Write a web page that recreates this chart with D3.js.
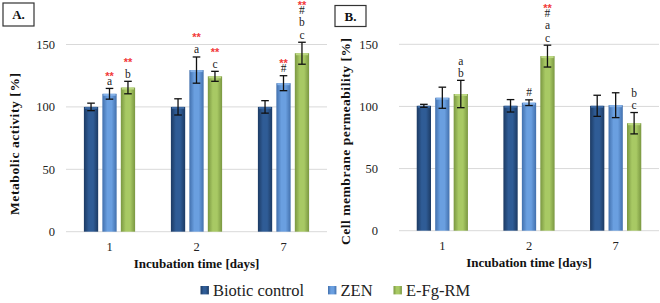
<!DOCTYPE html>
<html><head><meta charset="utf-8">
<script src="https://cdn.jsdelivr.net/npm/d3@7"></script>
<style>body{margin:0;background:#fff}svg{display:block}
svg text{font-family:"Liberation Serif","Times New Roman",Tinos,"DejaVu Serif",serif}
svg tspan.ast{font-family:"Liberation Sans",Arial,sans-serif}
</style>
</head><body>
<svg id="c" width="660" height="303"></svg>
<script>
const days = ["1", "2", "7"];
const seriesNames = ["Biotic control", "ZEN", "E-Fg-RM"];
const yTicks = [0, 50, 100, 150];

// Panel A: Metabolic activity [%]
const metaBiotic = [100, 100, 100];
const metaZEN = [110.5, 129.5, 119];
const metaEFg = [115.5, 124.5, 143];
const metaBioticErr = [3, 6.5, 5];
const metaZENErr = [4.3, 10.5, 6];
const metaEFgErr = [5, 4, 8.8];
const metaBioticLbl = [[], [], []];
const metaZENLbl = [["a", "**"], ["a", "", "**"], ["#", "**"]];
const metaEFgLbl = [["b", "", "**"], ["c", "", "**"], ["c", "b", "#", "**"]];

// Panel B: Cell membrane permeability [%]
const permBiotic = [100.5, 100.5, 100.5];
const permZEN = [107, 103, 101];
const permEFg = [110, 140.5, 86.5];
const permBioticErr = [1.2, 5, 8.5];
const permZENErr = [8.5, 2.3, 10];
const permEFgErr = [11, 8.8, 8.6];
const permBioticLbl = [[], [], []];
const permZENLbl = [[], ["#"], []];
const permEFgLbl = [["b", "a"], ["c", "a", "#", "**"], ["c", "b"]];

const colors = [
  {edge: "#1c3a63", mid: "#2f5c96", top: "#3d6aa3"},
  {edge: "#4270ad", mid: "#6a9fe0", top: "#86b3ea"},
  {edge: "#7a9741", mid: "#a8c964", top: "#bcd882"}
];

const svg = d3.select("#c");
const defs = svg.append("defs");
colors.forEach((c, i) => {
  const g = defs.append("linearGradient").attr("id", "g" + i)
    .attr("x1", "0").attr("x2", "1").attr("y1", "0").attr("y2", "0");
  g.append("stop").attr("offset", "0").attr("stop-color", c.edge);
  g.append("stop").attr("offset", "0.35").attr("stop-color", c.mid);
  g.append("stop").attr("offset", "0.65").attr("stop-color", c.mid);
  g.append("stop").attr("offset", "1").attr("stop-color", c.edge);
});

function panel(opt) {
  const g = svg.append("g");
  const x0 = d3.scaleBand().domain(days).range(opt.xr).padding(0);
  const x1 = d3.scaleBand().domain(seriesNames).range([-25.6, 25.6]).paddingInner(0.227).paddingOuter(0);
  const y = d3.scaleLinear().domain([0, 150]).range(opt.yr);

  g.selectAll("line.grid").data(yTicks).enter().append("line")
    .attr("x1", opt.xr[0]).attr("x2", opt.xr[1])
    .attr("y1", d => y(d)).attr("y2", d => y(d))
    .attr("stroke", "#d9d9d9").attr("stroke-width", 1);

  const yAxis = d3.axisLeft(y).tickValues(yTicks).tickSize(0).tickPadding(0);
  const ya = g.append("g").attr("transform", `translate(${opt.tickX},0)`).call(yAxis)
    .attr("font-family", null).attr("font-size", null);
  ya.select(".domain").remove();
  ya.selectAll("text").style("font-size", "12.5px").attr("fill", "#222");

  const xAxis = d3.axisBottom(x0).tickSize(0).tickPadding(0);
  const xa = g.append("g").attr("transform", `translate(0,${opt.yr[0] + 10})`).call(xAxis)
    .attr("font-family", null).attr("font-size", null);
  xa.select(".domain").remove();
  xa.selectAll("text").style("font-size", "12.5px").attr("fill", "#222");

  const rows = [];
  days.forEach((d, di) => {
    opt.vals.forEach((arr, si) => {
      rows.push({day: d, s: seriesNames[si], si, v: arr[di], e: opt.errs[si][di], lbl: opt.lbls[si][di]});
    });
  });

  const bx = r => x0(r.day) + x0.bandwidth() / 2 + x1(r.s);
  const bw = x1.bandwidth();

  g.selectAll("rect.bar").data(rows).enter().append("rect")
    .attr("x", bx).attr("width", bw)
    .attr("y", r => y(r.v)).attr("height", r => y(0) - y(r.v))
    .attr("fill", r => `url(#g${r.si})`);
  g.selectAll("rect.cap").data(rows).enter().append("rect")
    .attr("x", r => bx(r) + 1).attr("width", bw - 2)
    .attr("y", r => y(r.v)).attr("height", 2)
    .attr("fill", r => colors[r.si].top);

  const eg = g.selectAll("g.err").data(rows).enter().append("g")
    .attr("stroke", "#111").attr("stroke-width", 1.3);
  eg.append("line").attr("x1", r => bx(r) + bw / 2).attr("x2", r => bx(r) + bw / 2)
    .attr("y1", r => y(r.v + r.e)).attr("y2", r => y(r.v - r.e));
  eg.append("line").attr("x1", r => bx(r) + bw / 2 - 3.8).attr("x2", r => bx(r) + bw / 2 + 3.8)
    .attr("y1", r => y(r.v + r.e)).attr("y2", r => y(r.v + r.e));
  eg.append("line").attr("x1", r => bx(r) + bw / 2 - 3.8).attr("x2", r => bx(r) + bw / 2 + 3.8)
    .attr("y1", r => y(r.v - r.e)).attr("y2", r => y(r.v - r.e));

  // significance labels: one text block per bar, one tspan per line
  rows.filter(r => r.lbl.length).forEach(r => {
    const tx = bx(r) + bw / 2;
    const txt = g.append("text").attr("text-anchor", "middle");
    let cy = y(r.v + r.e) - 7;
    r.lbl.forEach((t, i) => {
      if (i > 0) {
        if (t === "") { cy -= 7; return; }
        cy -= (t === "**") ? 7.5 : 12.3;
      }
      if (t === "**") {
        txt.append("tspan").attr("class", "ast").attr("x", tx).attr("y", cy + 6)
          .style("font-weight", "bold").style("font-size", "11px").attr("fill", "#f23a3a").text(t);
      } else {
        txt.append("tspan").attr("x", tx).attr("y", cy + 3.5)
          .style("font-size", "11.5px").attr("fill", "#222").text(t);
      }
    });
  });

  g.append("text").attr("x", (opt.xr[0] + opt.xr[1]) / 2).attr("y", opt.yr[0] + 36)
    .attr("text-anchor", "middle").style("font-weight", "bold")
    .style("font-size", "13px").attr("fill", "#111").text("Incubation time [days]");
  g.append("text").attr("transform", `translate(${opt.ytX},${opt.ytY}) rotate(-90)`)
    .attr("text-anchor", "middle").style("font-weight", "bold")
    .style("font-size", "13.5px").attr("fill", "#111")
    .attr("textLength", opt.ytLen).attr("lengthAdjust", "spacing").text(opt.ytitle);

  g.append("rect").attr("x", opt.box[0]).attr("y", opt.box[1]).attr("width", opt.box[2]).attr("height", opt.box[3])
    .attr("fill", "#fff").attr("stroke", "#333").attr("stroke-width", 1.2);
  g.append("text").attr("x", opt.box[0] + opt.box[2] / 2).attr("y", opt.box[1] + opt.box[3] / 2 + 4.5)
    .attr("text-anchor", "middle").style("font-weight", "bold")
    .style("font-size", "13px").attr("fill", "#111").text(opt.name);
}

panel({
  name: "A.", xr: [66, 327], yr: [231.7, 44.5], tickX: 55,
  vals: [metaBiotic, metaZEN, metaEFg], errs: [metaBioticErr, metaZENErr, metaEFgErr],
  lbls: [metaBioticLbl, metaZENLbl, metaEFgLbl],
  ytitle: "Metabolic activity [%]", ytX: 18.5, ytY: 144, ytLen: 142,
  box: [3, 3, 31, 23]
});
panel({
  name: "B.", xr: [399, 659], yr: [230.7, 44.3], tickX: 378,
  vals: [permBiotic, permZEN, permEFg], errs: [permBioticErr, permZENErr, permEFgErr],
  lbls: [permBioticLbl, permZENLbl, permEFgLbl],
  ytitle: "Cell membrane permeability [%]", ytX: 350, ytY: 141.5, ytLen: 207,
  box: [335, 5.5, 31, 21]
});

const legX = [200.5, 328, 393.5];
const lg = svg.append("g");
seriesNames.forEach((s, i) => {
  lg.append("rect").attr("x", legX[i]).attr("y", 286).attr("width", 8.4).attr("height", 8.4)
    .attr("fill", `url(#g${i})`);
  lg.append("text").attr("x", legX[i] + 12.5).attr("y", 296)
    .style("font-size", "16.5px").attr("fill", "#222").text(s);
});
</script>
</body></html>
